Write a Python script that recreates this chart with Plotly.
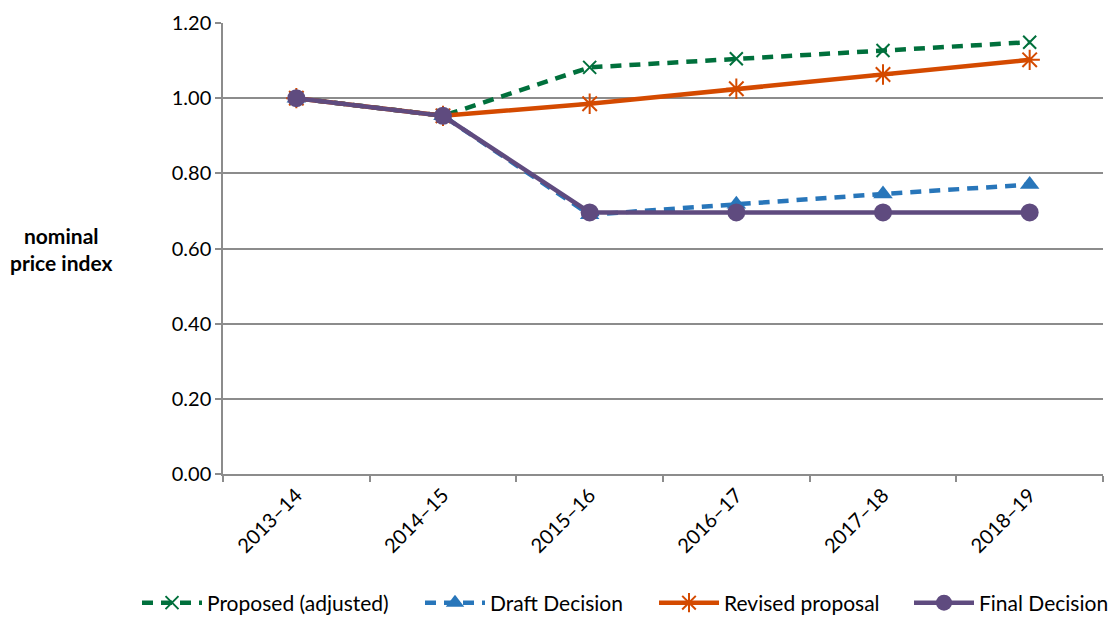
import plotly.graph_objects as go

# Financial years on the category axis
years = ["2013–14", "2014–15", "2015–16", "2016–17", "2017–18", "2018–19"]

# Nominal price index for each series
proposed_adjusted = [1.00, 0.953, 1.082, 1.105, 1.127, 1.149]
draft_decision = [1.00, 0.953, 0.690, 0.718, 0.745, 0.770]
revised_proposal = [1.00, 0.953, 0.985, 1.025, 1.063, 1.102]
final_decision = [1.00, 0.953, 0.696, 0.696, 0.696, 0.696]

y_ticks = [0.0, 0.2, 0.4, 0.6, 0.8, 1.0, 1.2]

GREEN = "#00703C"
BLUE = "#2876BA"
ORANGE = "#D44A00"
PURPLE = "#5F4B7F"
GRID = "#8C8C8C"
FONT = "Lato, 'Open Sans', sans-serif"

# plot area in pixels
W, H = 1120, 617
L, R, T, B = 223, 17, 23, 143
PW, PH = W - L - R, H - T - B


def px_x(x):
    return (x - L) / PW


def px_y(y):
    return (H - B - y) / PH


fig = go.Figure()

fig.add_trace(go.Scatter(
    x=years, y=proposed_adjusted, name="Proposed (adjusted)", mode="lines+markers",
    line=dict(color=GREEN, width=4.5, dash="11px,8px"),
    marker=dict(symbol="x-thin", size=13, line=dict(color=GREEN, width=2), color=GREEN),
    legend="legend",
))
fig.add_trace(go.Scatter(
    x=years, y=draft_decision, name="Draft Decision", mode="lines+markers",
    line=dict(color=BLUE, width=4.5, dash="11px,8px"),
    marker=dict(symbol="triangle-up", size=17, color=BLUE),
    legend="legend2",
))
fig.add_trace(go.Scatter(
    x=years, y=revised_proposal, name="Revised proposal", mode="lines+markers",
    line=dict(color=ORANGE, width=4.5),
    marker=dict(symbol="asterisk-open", size=17, line=dict(color=ORANGE, width=2), color=ORANGE),
    legend="legend3",
))
fig.add_trace(go.Scatter(
    x=years, y=final_decision, name="Final Decision", mode="lines+markers",
    line=dict(color=PURPLE, width=4.5),
    marker=dict(symbol="circle", size=18, color=PURPLE),
    legend="legend4",
))


def legend_at(x_left):
    return dict(
        orientation="h", x=px_x(x_left), xanchor="left",
        y=px_y(603), yanchor="middle",
        font=dict(family=FONT, size=21, color="#000000"),
        itemwidth=60, bgcolor="rgba(0,0,0,0)", borderwidth=0,
    )


fig.update_layout(
    width=W, height=H,
    margin=dict(l=L, r=R, t=T, b=B, autoexpand=False),
    paper_bgcolor="white", plot_bgcolor="white",
    font=dict(family=FONT, size=16, color="#000000"),
    showlegend=True,
    legend=legend_at(137),
    legend2=legend_at(420),
    legend3=legend_at(654),
    legend4=legend_at(909),
    xaxis=dict(
        type="category", range=[-0.5, 5.5],
        showgrid=False, showline=True, linecolor=GRID, linewidth=1.5,
        ticks="outside", tickson="boundaries", ticklen=6, tickcolor=GRID, tickwidth=1.5,
        tickangle=-45, tickfont=dict(family=FONT, size=20, color="#000000"),
    ),
    yaxis=dict(
        range=[0, 1.2], tickvals=y_ticks, tickformat=".2f",
        showgrid=True, gridcolor=GRID, gridwidth=1.5,
        showline=True, linecolor=GRID, linewidth=1.5,
        ticks="outside", ticklen=6, tickcolor=GRID, tickwidth=1.5,
        tickfont=dict(family=FONT, size=20, color="#000000"), zeroline=False,
    ),
    annotations=[dict(
        text="<b>nominal<br>price index</b>", x=px_x(61), y=px_y(249),
        xref="paper", yref="paper", xanchor="center", yanchor="middle",
        showarrow=False, font=dict(family=FONT, size=21, color="#000000"),
        align="center",
    )],
)

fig.write_html("out.html")
